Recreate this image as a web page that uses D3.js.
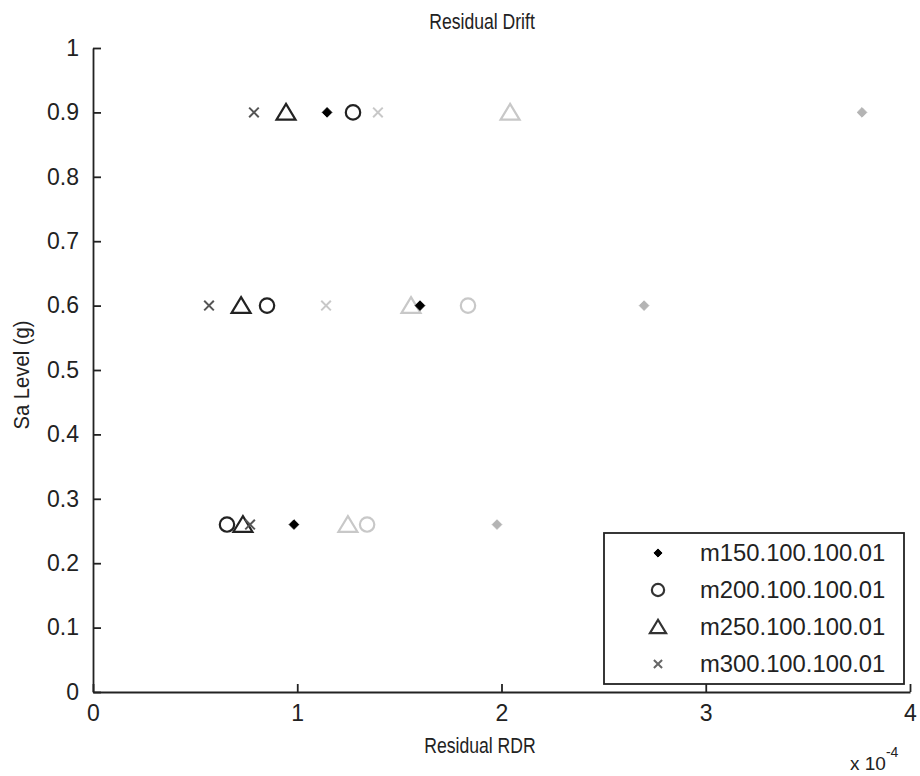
<!DOCTYPE html>
<html>
<head>
<meta charset="utf-8">
<script src="https://cdn.jsdelivr.net/npm/d3@7/dist/d3.min.js"></script>
<style>
  html, body { margin: 0; padding: 0; background: #fff; }
  svg text { font-family: "Liberation Sans", Arial, Helvetica, sans-serif; fill: #222; }
</style>
</head>
<body>
<svg id="chart" width="920" height="776"></svg>
<script>
// ---- Data (x values in units of 1e-4) ----
const saLevels = [0.9, 0.6, 0.26];
const xTicks = [0, 1, 2, 3, 4];
const yTicks = [0, 0.1, 0.2, 0.3, 0.4, 0.5, 0.6, 0.7, 0.8, 0.9, 1];

// first (dark) set, shown in the legend
const m150 = [1.146, 1.601, 0.984];
const m200 = [1.273, 0.852, 0.656];
const m250 = [0.945, 0.725, 0.734];
const m300 = [0.788, 0.568, 0.769];
// second (light grey) set, not in the legend
const m150b = [3.765, 2.698, 1.978];
const m200b = [null, 1.836, 1.342];
const m250b = [2.042, 1.557, 1.248];
const m300b = [1.395, 1.141, null];

const legendNames = ["m150.100.100.01", "m200.100.100.01", "m250.100.100.01", "m300.100.100.01"];

const series = [
  { name: legendNames[0], values: m150, shape: "diamond", color: "#000", legend: true },
  { name: legendNames[1], values: m200, shape: "circle", color: "#222", legend: true },
  { name: legendNames[2], values: m250, shape: "triangle", color: "#222", legend: true },
  { name: legendNames[3], values: m300, shape: "cross", color: "#555", legend: true },
  { name: "m150 (2)", values: m150b, shape: "diamond", color: "#b4b4b4", legend: false },
  { name: "m200 (2)", values: m200b, shape: "circle", color: "#c8c8c8", legend: false },
  { name: "m250 (2)", values: m250b, shape: "triangle", color: "#c8c8c8", legend: false },
  { name: "m300 (2)", values: m300b, shape: "cross", color: "#c8c8c8", legend: false }
];

const svg = d3.select("#chart");
const padL = 93, padR = 910, padT = 48, padB = 692;

const x = d3.scaleLinear().domain([0, 4]).range([padL, padR]);
const y = d3.scaleLinear().domain([0, 1]).range([padB, padT]);

// axes (ticks pointing inward)
const xAxis = d3.axisBottom(x).tickValues(xTicks).tickSizeInner(-8).tickSizeOuter(0).tickPadding(12).tickFormat(d3.format("d"));
const yAxis = d3.axisLeft(y).tickValues(yTicks).tickSizeInner(-8).tickSizeOuter(0).tickPadding(14).tickFormat(d => d === 0 ? "0" : d === 1 ? "1" : d3.format(".1f")(d));

const gx = svg.append("g").attr("transform", `translate(0,${padB})`).call(xAxis);
const gy = svg.append("g").attr("transform", `translate(${padL},0)`).call(yAxis);
[gx, gy].forEach(g => {
  g.select(".domain").attr("stroke", "#222").attr("stroke-width", 1.8);
  g.selectAll(".tick line").attr("stroke", "#222").attr("stroke-width", 1.8);
  g.selectAll(".tick text").style("font-size", "23px").attr("fill", "#222");
});
gx.selectAll(".tick text").attr("dy", "0.72em");

// symbols
function drawMarker(g, shape, color, cx, cy, scale) {
  const s = scale || 1;
  if (shape === "diamond") {
    const r = 4.8 * s;
    g.append("path").attr("d", `M${cx},${cy - r}L${cx + r},${cy}L${cx},${cy + r}L${cx - r},${cy}Z`)
      .attr("fill", color).attr("stroke", color).attr("stroke-width", 1);
  } else if (shape === "circle") {
    g.append("circle").attr("cx", cx).attr("cy", cy).attr("r", 7.2 * s)
      .attr("fill", "none").attr("stroke", color).attr("stroke-width", 2.2);
  } else if (shape === "triangle") {
    const h = 8.5 * s, w = 9.5 * s;
    g.append("path").attr("d", `M${cx},${cy - h}L${cx + w},${cy + h * 0.85}L${cx - w},${cy + h * 0.85}Z`)
      .attr("fill", "none").attr("stroke", color).attr("stroke-width", 2.2).attr("stroke-linejoin", "miter");
  } else if (shape === "cross") {
    const r = 4.8 * s;
    g.append("path").attr("d", `M${cx - r},${cy - r}L${cx + r},${cy + r}M${cx - r},${cy + r}L${cx + r},${cy - r}`)
      .attr("stroke", color).attr("stroke-width", 2).attr("fill", "none");
  }
}

const marks = svg.append("g");
// draw light set first, then dark set on top
[...series.slice(4), ...series.slice(0, 4)].forEach(s => {
  const g = marks.append("g").attr("class", "series");
  s.values.forEach((v, i) => {
    if (v == null) return;
    drawMarker(g, s.shape, s.color, x(v), y(saLevels[i]), 1);
  });
});

// title and labels (condensed lettering like the original)
svg.append("text").attr("transform", "translate(482,29) scale(0.8,1)").attr("text-anchor", "middle")
  .style("font-size", "22px").text("Residual Drift");
svg.append("text").attr("transform", "translate(480,753) scale(0.8,1)").attr("text-anchor", "middle")
  .style("font-size", "22px").text("Residual RDR");
svg.append("text").attr("transform", `translate(29,375) rotate(-90) scale(0.92,1)`).attr("text-anchor", "middle")
  .style("font-size", "22px").text("Sa Level (g)");
const exp = svg.append("text").attr("x", 850).attr("y", 770).style("font-size", "19px");
exp.append("tspan").text("x 10");
exp.append("tspan").attr("dy", -13).style("font-size", "14px").text("-4");

// legend
const lg = svg.append("g");
lg.append("rect").attr("x", 604).attr("y", 533).attr("width", 300).attr("height", 151)
  .attr("fill", "#fff").attr("stroke", "#222").attr("stroke-width", 1.8);
const legendSeries = series.filter(s => s.legend);
const legendColors = ["#000", "#333", "#333", "#666"];
legendSeries.forEach((s, i) => {
  const cy = 553 + i * 37;
  const g = lg.append("g");
  drawMarker(g, s.shape, legendColors[i], 658, cy, 0.85);
  lg.append("text").attr("x", 700).attr("y", cy + 8).style("font-size", "23.8px").text(s.name);
});
</script>
</body>
</html>
